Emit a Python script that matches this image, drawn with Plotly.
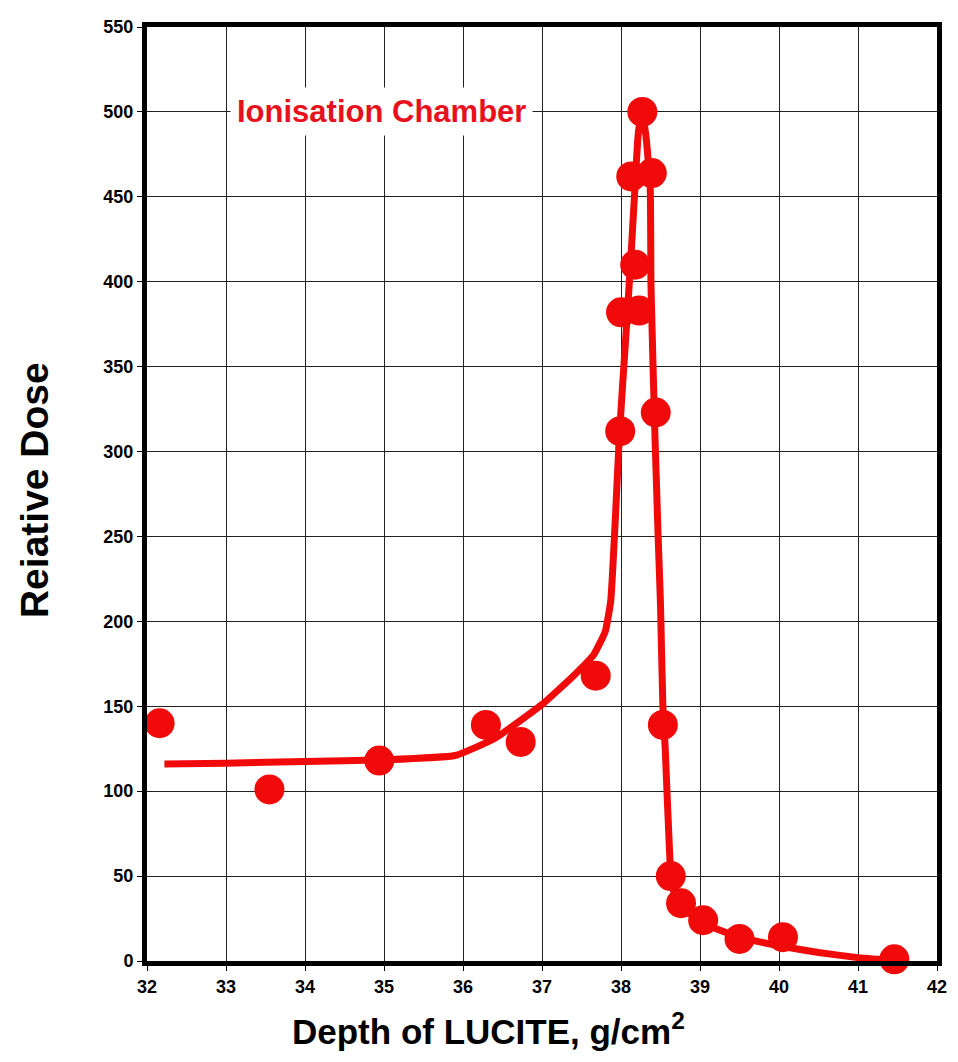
import plotly.graph_objects as go

# Measured data points (depth in g/cm^2, relative dose)
depth_pts = [32.16, 33.55, 34.94, 36.29, 36.73, 37.68, 37.99, 38.0, 38.23, 38.13,
             38.39, 38.27, 38.18, 38.44, 38.53, 38.63, 38.76, 39.04, 39.5, 40.05, 41.46]
dose_pts = [140, 101, 118, 139, 129, 168, 312, 382, 383, 462,
            464, 500, 410, 323, 139, 50, 34, 24, 13, 14, 1]

# Hand-drawn fitted curve
depth_curve = [32.22, 33.0, 34.0, 35.0, 35.9, 36.4, 37.0, 37.4, 37.65, 37.8, 37.87,
               37.93, 37.98, 38.05, 38.12, 38.17, 38.22, 38.27, 38.32, 38.37, 38.38,
               38.43, 38.47, 38.5, 38.53, 38.56, 38.62, 38.66, 38.75, 38.9, 39.1,
               39.5, 40.0, 40.5, 41.0, 41.4]
dose_curve = [116, 116.5, 117.5, 118.5, 121, 131, 151, 168, 180, 194, 212,
              262, 310, 360, 410, 450, 488, 500, 484, 455, 397,
              309, 250, 210, 150, 125, 59, 42, 33, 27, 21,
              14, 9, 5, 2, 0.5]

x_ticks = list(range(32, 43))
y_ticks = list(range(0, 551, 50))

RED = "#f00a0a"
FONT = "Arial, Liberation Sans, sans-serif"

fig = go.Figure()
fig.add_trace(go.Scatter(
    x=depth_curve, y=dose_curve, mode="lines",
    line=dict(color=RED, width=7, shape="spline", smoothing=0.4),
    hoverinfo="skip", showlegend=False))
fig.add_trace(go.Scatter(
    x=depth_pts, y=dose_pts, mode="markers",
    marker=dict(color=RED, size=30, line=dict(width=0)),
    cliponaxis=False, showlegend=False))

axis_common = dict(
    showgrid=True, gridcolor="#222222", gridwidth=1,
    showline=True, linecolor="black", linewidth=5, mirror=True,
    ticks="outside", ticklen=5, tickcolor="black", tickwidth=1,
    tickfont=dict(family=FONT, size=18, color="black", weight="bold"),
    ticklabeloverflow="allow",
    zeroline=False,
)

fig.update_xaxes(range=[32, 42], tickvals=x_ticks, ticktext=[str(v) for v in x_ticks], **axis_common)
fig.update_yaxes(range=[0, 550], tickvals=y_ticks, ticktext=[str(v) for v in y_ticks], **axis_common)

fig.add_annotation(x=34.97, y=500, xref="x", yref="y", text="<b>Ionisation Chamber</b>",
                   showarrow=False, xanchor="center", yanchor="middle",
                   bgcolor="white", borderpad=6,
                   font=dict(family=FONT, size=31, color="#e8101c"))

fig.add_annotation(x=0.4325, y=-0.073, xref="paper", yref="paper",
                   text="<b>Depth of LUCITE, g/cm<sup>2</sup></b>", showarrow=False,
                   xanchor="center", yanchor="middle",
                   font=dict(family=FONT, size=35, color="black"))

fig.add_annotation(x=-0.1433, y=0.504, xref="paper", yref="paper",
                   text="<b>Reiative Dose</b>", showarrow=False, textangle=-90,
                   xanchor="center", yanchor="middle",
                   font=dict(family=FONT, size=39, color="black"))

fig.update_layout(
    width=948, height=1046,
    margin=dict(l=139, r=16, t=9, b=93),
    plot_bgcolor="white", paper_bgcolor="white",
    showlegend=False,
)

fig.write_html("out.html")
